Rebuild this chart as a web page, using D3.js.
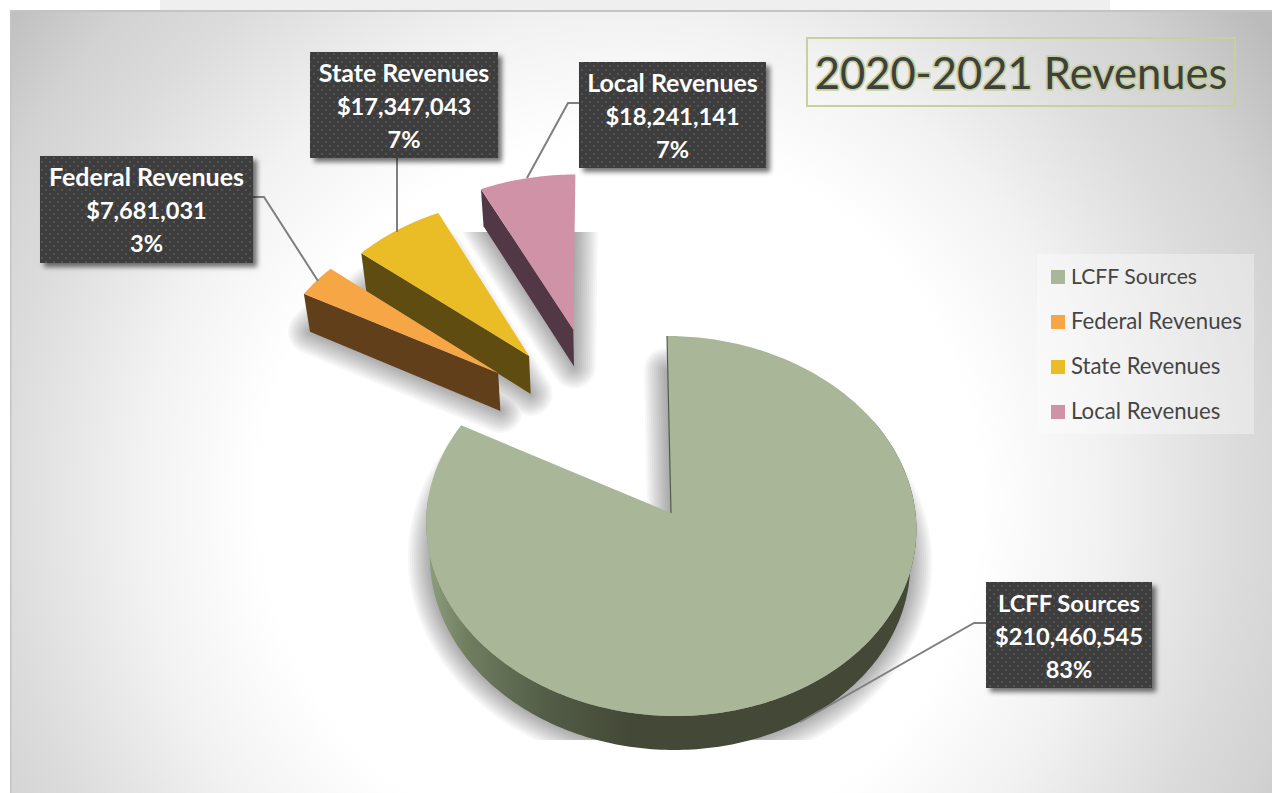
<!DOCTYPE html>
<html><head><meta charset="utf-8">
<script src="https://cdn.jsdelivr.net/npm/d3@7"></script>
<style>html,body{margin:0;padding:0;background:#fff}svg{display:block}text{font-family:Lato,"Open Sans",sans-serif}</style>
</head><body><div id="chart"></div>
<script>
// ---- data ----
const categories = ["LCFF Sources","Federal Revenues","State Revenues","Local Revenues"];
const revenues = [210460545,7681031,17347043,18241141];
const shareLabels = ["83%","3%","7%","7%"];
const chartTitle = "2020-2021 Revenues";
// ---- styling and layout ----
const topColors = ["#a9b697","#f7a646","#eabd26","#d092a7"];
const sideColors = ["url(#mainSide)","#613f1b","#5e4c10","#523844"];
const explodeX = [0,-0.731,-0.60,-0.41];
const explodeY = [0,0.78,0.8805,1.04];
const sideDepth = [34,38,38,37];
const shadowSpread = [44,40,36,32,28,24,20,16,12,8,4,0];
const labelNameSize = [23.7,25,25,25];
const legendSize = [21.2,22.2,22.2,22.2];
const boxes = [
 {x:986,y:582,w:166,h:106,line:[[986,623],[974,623],[800,722]]},
 {x:40,y:156,w:213,h:107,line:[[253,197],[264,197],[318,281]]},
 {x:310,y:52,w:188,h:106,line:[[397,158],[397,232]]},
 {x:579,y:62,w:187,h:106,line:[[579,103],[568,103],[527,178]]}
];
const W=1272,H=793,cx=671,cy=513,rx=244.5,ry=189.1,persp=0.0684;
const svg=d3.select("#chart").append("svg").attr("width",W).attr("height",H);
const defs=svg.append("defs");
const bg=defs.append("radialGradient").attr("id","bg").attr("gradientUnits","userSpaceOnUse")
 .attr("cx",620).attr("cy",500).attr("r",800);
[[0,"#ffffff"],[0.45,"#ffffff"],[0.6,"#f2f2f2"],[0.77,"#dcdcdc"],[0.87,"#d2d2d2"],[1,"#bbbbbb"]].forEach(s=>bg.append("stop").attr("offset",s[0]).attr("stop-color",s[1]));
const ms=defs.append("linearGradient").attr("id","mainSide").attr("gradientUnits","userSpaceOnUse")
 .attr("x1",428).attr("x2",630).attr("y1",0).attr("y2",0);
[[0,"#8d9e7d"],[0.2,"#6f7d5f"],[0.6,"#525c46"],[1,"#434936"]].forEach(s=>ms.append("stop").attr("offset",s[0]).attr("stop-color",s[1]));
const ds=defs.append("filter").attr("id","boxShadow").attr("x","-20%").attr("y","-20%").attr("width","150%").attr("height","150%");
ds.append("feDropShadow").attr("dx",4).attr("dy",4).attr("stdDeviation",2.5).attr("flood-color","#000").attr("flood-opacity",0.55);
const pat=defs.append("pattern").attr("id","dots").attr("patternUnits","userSpaceOnUse").attr("width",8).attr("height",8);
pat.append("rect").attr("width",8).attr("height",8).attr("fill","#3d3d3d");
[[1,1],[5,5]].forEach(p=>pat.append("rect").attr("x",p[0]).attr("y",p[1]).attr("width",2).attr("height",2).attr("fill","#525252"));
defs.append("clipPath").attr("id","shadowClip").append("rect").attr("x",200).attr("y",232).attr("width",900).attr("height",508);

// background
svg.append("rect").attr("x",160).attr("y",0).attr("width",950).attr("height",11).attr("fill","#efefef");
svg.append("rect").attr("x",10).attr("y",10).attr("width",W-10).attr("height",H-10).attr("fill","#c4c4c4");
svg.append("rect").attr("x",11.5).attr("y",12).attr("width",W-11.5).attr("height",H-12).attr("fill","url(#bg)");

// projection of the pie plane
function project(X,Y){
 const d=1+persp*Y, py=ry*Y/d;
 return [cx+rx*X/d-4*py/177, cy-py];
}
function extrude(p,depth){
 return [p[0]+0.02*(610-p[0]), p[1]+depth];
}
const poly=d3.line();
const slices=d3.pie().sort(null).value(d=>d)(revenues);
const deg=Math.PI/180;
function rim(i,a0,a1){
 const n=Math.max(2,Math.ceil((a1-a0)/deg));
 return d3.range(n+1).map(k=>{
  const a=a0+(a1-a0)*k/n;
  return project(explodeX[i]+Math.sin(a),explodeY[i]+Math.cos(a));
 });
}
const apex=i=>project(explodeX[i],explodeY[i]);
const topPts=i=>[apex(i),...rim(i,slices[i].startAngle,slices[i].endAngle)];

// shadows: stacked widening outlines make a soft falloff
const sh=svg.append("g").attr("clip-path","url(#shadowClip)");
shadowSpread.forEach(w=>{
 const layer=sh.append("g").attr("opacity",0.028);
 slices.forEach((d,i)=>{
  layer.append("path").attr("d",poly(topPts(i).map(p=>extrude(p,sideDepth[i])))+"Z")
   .attr("fill","#000").attr("stroke","#000").attr("stroke-width",w).attr("stroke-linejoin","round");
 });
});

// side faces (main outer wall, cut faces of exploded slices)
const order=[0,3,2,1];
const marks=svg.append("g");
order.forEach(i=>{
 let side;
 if(i===0){
  const r=rim(0,slices[0].startAngle+60*deg,slices[0].startAngle+275*deg);
  side=[...r,...r.map(p=>extrude(p,sideDepth[0])).reverse()];
 } else {
  const a=apex(i), c=rim(i,slices[i].startAngle,slices[i].startAngle)[0];
  side=[a,c,extrude(c,sideDepth[i]),extrude(a,sideDepth[i])];
 }
 marks.append("path").attr("d",poly(side)+"Z").attr("fill",sideColors[i]);
 marks.append("path").attr("d",poly(topPts(i))+"Z").attr("fill",topColors[i]);
 if(i===0){
  const e=rim(0,0,0)[0];
  marks.append("line").attr("x1",apex(0)[0]).attr("y1",apex(0)[1]).attr("x2",e[0]).attr("y2",e[1])
   .attr("stroke","#4a5240").attr("stroke-width",1.2).attr("opacity",0.9);
 }
});

// leader lines
svg.selectAll("path.leader").data(boxes).join("path").attr("class","leader")
 .attr("d",d=>poly(d.line)).attr("fill","none").attr("stroke","#7f7f7f").attr("stroke-width",2);

// data label boxes
const fmt=d3.format("$,");
const lab=svg.selectAll("g.lab").data(boxes).join("g").attr("class","lab");
lab.append("rect").attr("x",d=>d.x).attr("y",d=>d.y).attr("width",d=>d.w).attr("height",d=>d.h)
 .attr("fill","url(#dots)").attr("filter","url(#boxShadow)");
lab.each(function(d,i){
 [categories[i],fmt(revenues[i]),shareLabels[i]].forEach((t,k)=>{
  d3.select(this).append("text").attr("x",d.x+d.w/2).attr("y",d.y+30+k*33)
   .attr("text-anchor","middle").attr("fill","#fff").attr("font-weight",700)
   .attr("font-size",k===0?labelNameSize[i]:23.6).text(t);
 });
});

// title
svg.append("rect").attr("x",807).attr("y",38).attr("width",428).attr("height",68)
 .attr("fill","none").attr("stroke","#c6d29e").attr("stroke-width",2);
svg.append("text").attr("x",1021).attr("y",89).attr("text-anchor","middle").attr("font-size",43.5)
 .attr("fill","#3f3f3f").attr("stroke","#c3d09a").attr("stroke-width",3.5).attr("paint-order","stroke")
 .attr("stroke-linejoin","round").text(chartTitle);

// legend
svg.append("rect").attr("x",1037).attr("y",254).attr("width",217).attr("height",180).attr("fill","#fff").attr("opacity",0.35);
const leg=d3.scalePoint().domain(categories).range([277,412]);
const lg=svg.selectAll("g.leg").data(categories).join("g").attr("class","leg");
lg.append("rect").attr("x",1051).attr("y",d=>leg(d)-7).attr("width",14).attr("height",14).attr("fill",(d,i)=>topColors[i]);
lg.append("text").attr("x",1071).attr("y",d=>leg(d)+7).attr("font-size",(d,i)=>legendSize[i]).attr("fill","#454545").text(d=>d);
</script></body></html>
